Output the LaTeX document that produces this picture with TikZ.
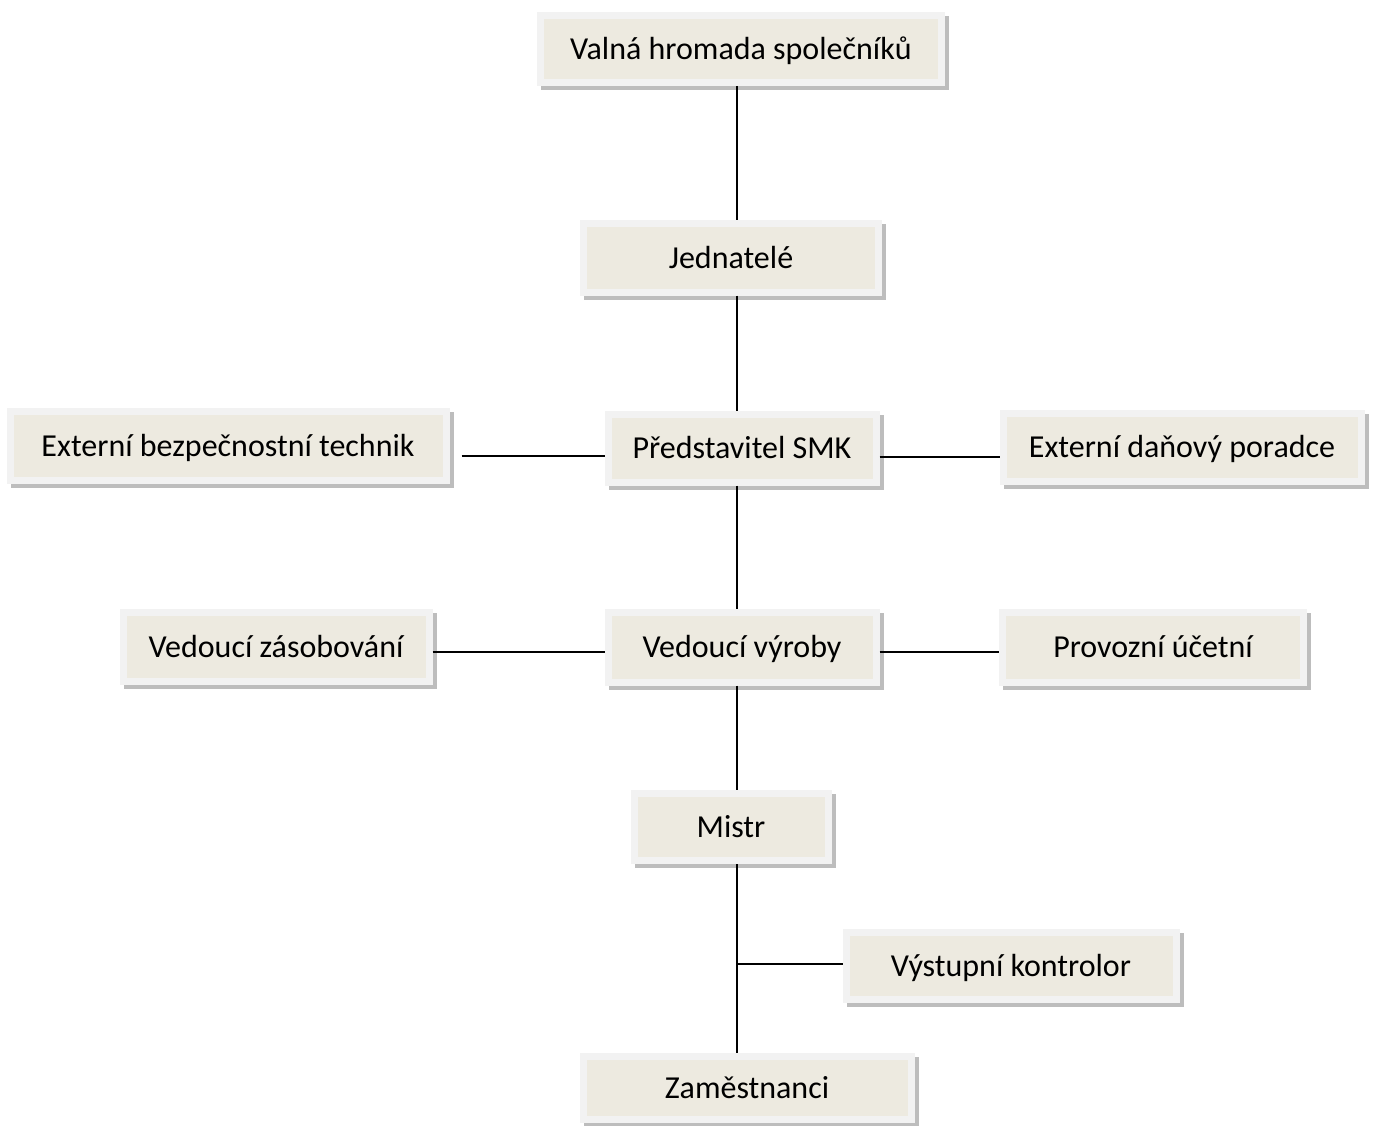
\documentclass[tikz,border=0pt]{standalone}
\usepackage{fontspec}
\setmainfont{Carlito}
\usetikzlibrary{shadows}
\definecolor{boxfill}{HTML}{EDEAE0}
\definecolor{boxframe}{HTML}{F2F2F2}
\definecolor{boxshadow}{HTML}{BDBDBD}
\tikzset{
  orgbox/.style={rectangle, fill=boxfill, draw=boxframe, line width=7pt,
    inner sep=0pt, font=\fontsize{32}{38}\selectfont,
    text height=29pt, text depth=8pt,
    drop shadow={shadow xshift=4pt, shadow yshift=-4pt, fill=boxshadow,
      draw=boxshadow, line width=7pt, opacity=1}},
  link/.style={line width=1.4pt}
}
\begin{document}
\begin{tikzpicture}[x=1pt, y=-1pt]
            \useasboundingbox (0,0) rectangle (1373,1126);
            \coordinate (trunk) at (737,0);
            \node[orgbox, minimum width=401, minimum height=67] (valna) at (741,49) {Valná hromada společníků};
            \node[orgbox, minimum width=295, minimum height=68] (jednatele) at (731,258) {Jednatelé};
            \node[orgbox, minimum width=268, minimum height=68] (smk) at (742,448) {Představitel SMK};
            \node[orgbox, minimum width=436, minimum height=69] (technik) at (228,446) {Externí bezpečnostní technik};
            \node[orgbox, minimum width=358, minimum height=68] (poradce) at (1182,447) {Externí daňový poradce};
            \node[orgbox, minimum width=306, minimum height=69] (zasobovani) at (276,647) {Vedoucí zásobování};
            \node[orgbox, minimum width=268, minimum height=70] (vyroba) at (742,647) {Vedoucí výroby};
            \node[orgbox, minimum width=301, minimum height=70] (ucetni) at (1153,647) {Provozní účetní};
            \node[orgbox, minimum width=194, minimum height=67] (mistr) at (731,827) {Mistr};
            \node[orgbox, minimum width=330, minimum height=67] (kontrolor) at (1011,966) {Výstupní kontrolor};
            \node[orgbox, minimum width=328, minimum height=63] (zamestnanci) at (747,1088) {Zaměstnanci};
            \draw[link] (valna.south -| trunk) -- (jednatele.north -| trunk);
            \draw[link] (jednatele.south -| trunk) -- (smk.north -| trunk);
            \draw[link] (smk.south -| trunk) -- (vyroba.north -| trunk);
            \draw[link] (vyroba.south -| trunk) -- (mistr.north -| trunk);
            \draw[link] (mistr.south -| trunk) -- (zamestnanci.north -| trunk);
            \draw[link, shorten <=12pt] ([yshift=-10pt]technik.east) -- ([yshift=-10pt]technik.east -| smk.west);
            \draw[link] ([yshift=-9pt]smk.east) -- ([yshift=-9pt]smk.east -| poradce.west);
            \draw[link] ([yshift=-5pt]zasobovani.east) -- ([yshift=-5pt]zasobovani.east -| vyroba.west);
            \draw[link] ([yshift=-5pt]vyroba.east) -- ([yshift=-5pt]vyroba.east -| ucetni.west);
            \draw[link] ([yshift=2pt]kontrolor.west) -- ([yshift=2pt]kontrolor.west -| trunk);
\end{tikzpicture}
\end{document}
